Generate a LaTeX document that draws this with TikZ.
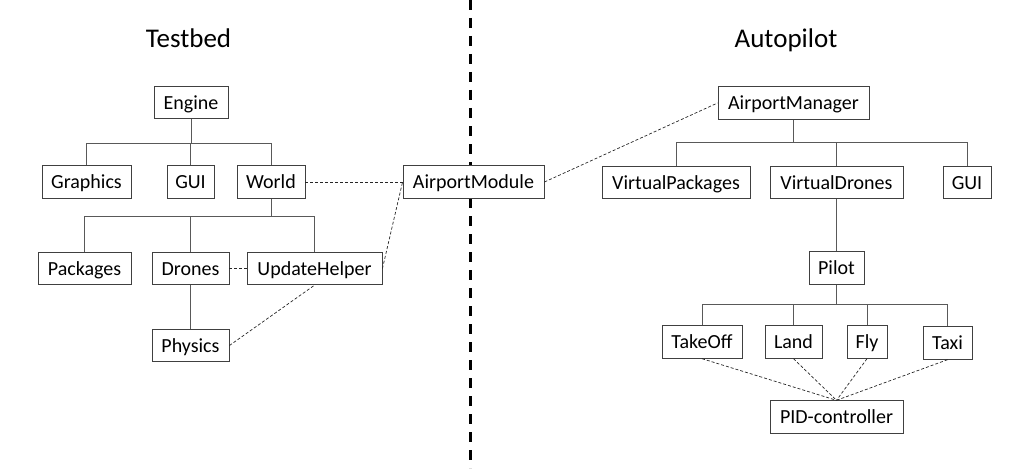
\documentclass[tikz,border=0pt]{standalone}
\usepackage{fontspec}
\setmainfont{Carlito}
\begin{document}
\begin{tikzpicture}[x=1pt,y=-1pt,
 box/.style={draw=black!75, line width=0.9pt, minimum height=32.5pt, inner sep=0pt, text height=14pt, text depth=0.4pt, font=\fontsize{20}{22}\selectfont, text=black},
 tree/.style={draw=black!65, line width=0.9pt},
 link/.style={draw=black!85, line width=0.7pt, dash pattern=on 3pt off 2pt},
 sepline/.style={draw=black, line width=3pt, dash pattern=on 10pt off 8pt},
 title/.style={font=\fontsize{27}{30}\selectfont, anchor=base, inner sep=0pt}]
\useasboundingbox (0,0) rectangle (1024,468);

% separator
\coordinate (st) at (470.5,0);
\coordinate (sb) at (470.5,468);
\draw[sepline] (st) -- (sb);

% titles
\node[title] (ttest) at (188.5,48) {Testbed};
\node[title] (tauto) at (786,48) {Autopilot};

% Testbed nodes
\node[box, minimum width=74pt] (engine) at (191,102.5) {Engine};
\node[box, minimum width=89pt] (graphics) at (86.5,182) {Graphics};
\node[box, minimum width=47pt] (gui) at (190.5,182) {GUI};
\node[box, minimum width=68pt] (world) at (271,182) {World};
\node[box, minimum width=93pt] (packages) at (84.5,268.5) {Packages};
\node[box, minimum width=77pt] (drones) at (190.5,268.5) {Drones};
\node[box, minimum width=135pt] (uhelper) at (314.5,268.5) {UpdateHelper};
\node[box, minimum width=77pt] (physics) at (190.5,345.5) {Physics};
\node[box, minimum width=141pt, fill=white] (amodule) at (473.5,182) {AirportModule};

% Autopilot nodes
\node[box, minimum width=151pt] (amanager) at (793.5,103) {AirportManager};
\node[box, minimum width=148pt] (vpack) at (676,182.5) {VirtualPackages};
\node[box, minimum width=133pt] (vdrones) at (836.5,182.5) {VirtualDrones};
\node[box, minimum width=48pt] (guib) at (967,182.5) {GUI};
\node[box, minimum width=55pt] (pilot) at (836.5,268) {Pilot};
\node[box, minimum width=80pt] (takeoff) at (702,342) {TakeOff};
\node[box, minimum width=57pt] (land) at (793.5,342) {Land};
\node[box, minimum width=40pt] (fly) at (867,342) {Fly};
\node[box, minimum width=49pt] (taxi) at (947.5,343) {Taxi};
\node[box, minimum width=133pt] (pid) at (836.5,417) {PID-controller};

% bus levels
\coordinate (ebus) at (0,143);
\coordinate (wbus) at (0,216);
\coordinate (abus) at (0,142);
\coordinate (pbus) at (0,304);

% Testbed tree
\draw[tree] (engine.south) -- (engine.south |- ebus);
\draw[tree] (graphics.north) |- (world.north |- ebus) -- (world.north);
\draw[tree] (gui.north) -- (gui.north |- ebus);
\draw[tree] (world.south) -- (world.south |- wbus);
\draw[tree] (packages.north) |- (uhelper.north |- wbus) -- (uhelper.north);
\draw[tree] (drones.north) -- (drones.north |- wbus);
\draw[tree] (drones.south) -- (physics.north);

% Autopilot tree
\draw[tree] (amanager.south) -- (amanager.south |- abus);
\draw[tree] (vpack.north) |- (guib.north |- abus) -- (guib.north);
\draw[tree] (vdrones.north) -- (vdrones.north |- abus);
\draw[tree] (vdrones.south) -- (pilot.north);
\draw[tree] (pilot.south) -- (pilot.south |- pbus);
\draw[tree] (takeoff.north) |- (taxi.north |- pbus) -- (taxi.north);
\draw[tree] (land.north) -- (land.north |- pbus);
\draw[tree] (fly.north) -- (fly.north |- pbus);

% dashed links
\draw[link] (world.east) -- (amodule.west);
\draw[link] (drones.east) -- (uhelper.west);
\draw[link] (uhelper.east) -- (amodule.west);
\draw[link] (physics.east) -- (uhelper.south);
\draw[link] (amodule.east) -- (amanager.west);
\draw[link] (takeoff.south) -- (pid.north);
\draw[link] (land.south) -- (pid.north);
\draw[link] (fly.south) -- (pid.north);
\draw[link] (taxi.south) -- (pid.north);
\end{tikzpicture}
\end{document}
